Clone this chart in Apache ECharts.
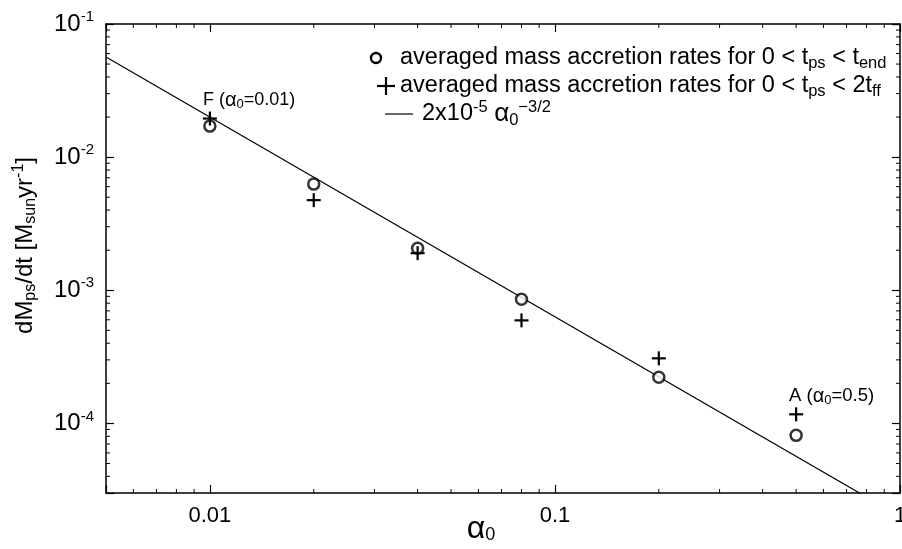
<!DOCTYPE html>
<html><head><meta charset="utf-8">
<script src="https://cdn.jsdelivr.net/npm/echarts@6/dist/echarts.min.js"></script>
<style>html,body{margin:0;padding:0;background:#fff}#c{width:902px;height:549px}</style>
</head><body><div id="c"></div>
<script>
// ---- data ----
const alpha0 = [0.01, 0.02, 0.04, 0.08, 0.2, 0.5];
const rateTend = [0.0171, 0.00627, 0.00207, 0.000855, 0.000222, 0.0000813];
const rate2tff = [0.0195, 0.00475, 0.0019, 0.000594, 0.000308, 0.000117];
const fitAlpha = [0.005, 1];
const fitRate = [0.0566, 0.00002];
const xTickValues = [0.01, 0.1, 1];
const xTickLabels = ['0.01', '0.1', '1'];
const yTickValues = [1e-4, 1e-3, 1e-2, 1e-1];
const yTickExps = ['-4', '-3', '-2', '-1'];
const xMinorTicks = [0.006,0.007,0.008,0.009,0.02,0.03,0.04,0.05,0.06,0.07,0.08,0.09,0.2,0.3,0.4,0.5,0.6,0.7,0.8,0.9];
const yMinorTicks = [4e-5,5e-5,6e-5,7e-5,8e-5,9e-5,2e-4,3e-4,4e-4,5e-4,6e-4,7e-4,8e-4,9e-4,2e-3,3e-3,4e-3,5e-3,6e-3,7e-3,8e-3,9e-3,2e-2,3e-2,4e-2,5e-2,6e-2,7e-2,8e-2,9e-2];

const FONT = '"Liberation Sans", Arial, Helvetica, sans-serif';
const chart = echarts.init(document.getElementById('c'), null, {renderer: 'canvas'});

function findIdx(arr, v) {
  for (let i = 0; i < arr.length; i++) if (Math.abs(Math.log10(v) - Math.log10(arr[i])) < 1e-6) return i;
  return -1;
}
const axLine = {show: true, lineStyle: {color: '#000', width: 1.5}};
const axTick = {show: true, inside: true, length: 8, lineStyle: {color: '#000', width: 1.2}};

const option = {
  animation: false,
  backgroundColor: '#fff',
  grid: {left: 106, right: 2, top: 24, bottom: 56, containLabel: false, outerBoundsMode: 'none'},
  xAxis: [
    {type: 'log', logBase: 10, min: 0.005, max: 1, position: 'bottom',
     axisLine: axLine, axisTick: axTick, splitLine: {show: false},
     axisLabel: {margin: 12, color: '#000', fontFamily: FONT, fontSize: 22, hideOverlap: false,
       formatter: v => { const i = findIdx(xTickValues, v); return i < 0 ? '' : xTickLabels[i]; }},
     name: '{a|α}{s|0}', nameLocation: 'middle', nameGap: 20, nameMoveOverlap: false,
     nameTextStyle: {padding: [0, 44, 0, 0], rich: {
       a: {fontFamily: FONT, fontSize: 32, color: '#000'},
       s: {fontFamily: FONT, fontSize: 18, color: '#000', padding: [12, 0, 0, 0]}}}},
    {type: 'log', logBase: 10, min: 0.005, max: 1, position: 'top',
     axisLine: axLine, axisTick: axTick, splitLine: {show: false}, axisLabel: {show: false}}
  ],
  yAxis: [
    {type: 'log', logBase: 10, min: 3e-5, max: 0.1, position: 'left',
     axisLine: axLine, axisTick: axTick, splitLine: {show: false},
     axisLabel: {margin: 12, color: '#000',
       formatter: v => { const i = findIdx(yTickValues, v); return i < 0 ? '' : '{b|10}{s|' + yTickExps[i] + '}'; },
       rich: {b: {fontFamily: FONT, fontSize: 24, color: '#000'},
              s: {fontFamily: FONT, fontSize: 15, color: '#000', padding: [0, 0, 14, 0]}}},
     name: 'dM{sub|ps}/dt [M{sub|sun}yr{sup|-1}]', nameLocation: 'middle', nameGap: 66, nameRotate: 90,
     nameMoveOverlap: false,
     nameTextStyle: {padding: [0, 0, 0, 26], rich: {
       sub: {fontFamily: FONT, fontSize: 16, color: '#000', padding: [11, 0, 0, 0]},
       sup: {fontFamily: FONT, fontSize: 16, color: '#000', padding: [0, 0, 13, 0]}},
       fontFamily: FONT, fontSize: 24, color: '#000'}},
    {type: 'log', logBase: 10, min: 3e-5, max: 0.1, position: 'right',
     axisLine: axLine, axisTick: axTick, splitLine: {show: false}, axisLabel: {show: false}}
  ],
  series: [
    {type: 'custom', name: 'xminor', xAxisIndex: 0, yAxisIndex: 0, silent: true, z: 3,
     data: xMinorTicks.map(v => [v, 1e-3]),
     renderItem: (params, api) => {
       const cs = params.coordSys; const x = api.coord([api.value(0), api.value(1)])[0];
       const b = cs.y + cs.height, t = cs.y;
       return {type: 'group', children: [
         {type: 'line', shape: {x1: x, y1: b, x2: x, y2: b - 4}, style: {stroke: '#000', lineWidth: 1}},
         {type: 'line', shape: {x1: x, y1: t, x2: x, y2: t + 4}, style: {stroke: '#000', lineWidth: 1}}]};
     }},
    {type: 'custom', name: 'yminor', xAxisIndex: 0, yAxisIndex: 0, silent: true, z: 3,
     data: yMinorTicks.map(v => [0.05, v]),
     renderItem: (params, api) => {
       const cs = params.coordSys; const y = api.coord([api.value(0), api.value(1)])[1];
       const l = cs.x, r = cs.x + cs.width;
       return {type: 'group', children: [
         {type: 'line', shape: {x1: l, y1: y, x2: l + 4, y2: y}, style: {stroke: '#000', lineWidth: 1}},
         {type: 'line', shape: {x1: r, y1: y, x2: r - 4, y2: y}, style: {stroke: '#000', lineWidth: 1}}]};
     }},
    {type: 'line', name: 'fit', xAxisIndex: 0, yAxisIndex: 0, clip: true, showSymbol: false, symbol: 'none',
     data: fitAlpha.map((a, i) => [a, fitRate[i]]), lineStyle: {color: '#000', width: 1.2}, z: 2, silent: true},
    {type: 'scatter', name: 'tend', xAxisIndex: 0, yAxisIndex: 0, symbol: 'circle', symbolSize: 11,
     data: alpha0.map((a, i) => [a, rateTend[i]]),
     itemStyle: {color: '#fff', borderColor: '#000', borderWidth: 2.5}, z: 4, silent: true},
    {type: 'custom', name: '2tff', xAxisIndex: 0, yAxisIndex: 0, z: 5, silent: true,
     data: alpha0.map((a, i) => [a, rate2tff[i]]),
     renderItem: (params, api) => {
       const p = api.coord([api.value(0), api.value(1)]); const h = 7;
       return {type: 'group', children: [
         {type: 'line', shape: {x1: p[0] - h, y1: p[1], x2: p[0] + h, y2: p[1]}, style: {stroke: '#000', lineWidth: 2.2}},
         {type: 'line', shape: {x1: p[0], y1: p[1] - h, x2: p[0], y2: p[1] + h}, style: {stroke: '#000', lineWidth: 2.2}}]};
     }}
  ],
  graphic: [
    {type: 'circle', shape: {cx: 376, cy: 58, r: 5}, style: {fill: '#fff', stroke: '#000', lineWidth: 2.4}, z: 10},
    {type: 'text', x: 400, y: 58, z: 10, style: {
      text: 'averaged mass accretion rates for 0 < t{sub|ps} < t{sub|end}',
      fontFamily: FONT, fontSize: 23.5, fill: '#000', verticalAlign: 'middle',
      rich: {sub: {fontFamily: FONT, fontSize: 16.5, fill: '#000', padding: [10, 0, 0, 0]}}}},
    {type: 'line', shape: {x1: 377, y1: 86, x2: 395, y2: 86}, style: {stroke: '#000', lineWidth: 2.2}, z: 10},
    {type: 'line', shape: {x1: 386, y1: 77, x2: 386, y2: 95}, style: {stroke: '#000', lineWidth: 2.2}, z: 10},
    {type: 'text', x: 400, y: 86, z: 10, style: {
      text: 'averaged mass accretion rates for 0 < t{sub|ps} < 2t{sub|ff}',
      fontFamily: FONT, fontSize: 23.5, fill: '#000', verticalAlign: 'middle',
      rich: {sub: {fontFamily: FONT, fontSize: 16.5, fill: '#000', padding: [10, 0, 0, 0]}}}},
    {type: 'line', shape: {x1: 385, y1: 114, x2: 413, y2: 114}, style: {stroke: '#000', lineWidth: 1.2}, z: 10},
    {type: 'text', x: 422, y: 114, z: 10, style: {
      text: '2x10{sup|-5} {a|α}{sub|0}{sup|−3/2}',
      fontFamily: FONT, fontSize: 23.5, fill: '#000', verticalAlign: 'middle',
      rich: {sub: {fontFamily: FONT, fontSize: 16.5, fill: '#000', padding: [12, 0, 0, 0]},
             sup: {fontFamily: FONT, fontSize: 16.5, fill: '#000', padding: [0, 0, 14, 0]},
             a: {fontFamily: FONT, fontSize: 26, fill: '#000'}}}},
    {type: 'text', x: 203, y: 100, z: 10, style: {
      text: 'F ({a|α}{sub|0}=0.01)', fontFamily: FONT, fontSize: 18, fill: '#000', verticalAlign: 'middle',
      rich: {a: {fontFamily: FONT, fontSize: 20, fill: '#000'},
             sub: {fontFamily: FONT, fontSize: 13, fill: '#000', padding: [8, 0, 0, 0]}}}},
    {type: 'text', x: 789, y: 396, z: 10, style: {
      text: 'A ({a|α}{sub|0}=0.5)', fontFamily: FONT, fontSize: 18.5, fill: '#000', verticalAlign: 'middle',
      rich: {a: {fontFamily: FONT, fontSize: 20, fill: '#000'},
             sub: {fontFamily: FONT, fontSize: 13, fill: '#000', padding: [8, 0, 0, 0]}}}}
  ]
};
chart.setOption(option);
</script></body></html>
